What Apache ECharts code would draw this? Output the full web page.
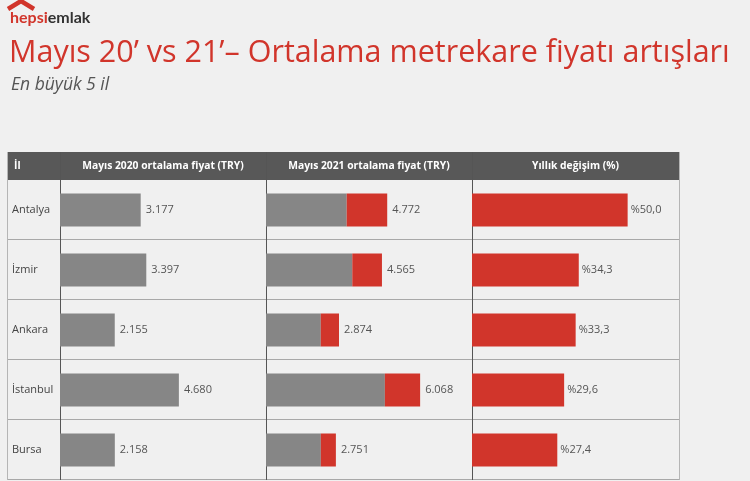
<!DOCTYPE html>
<html>
<head>
<meta charset="utf-8">
<script src="https://cdn.jsdelivr.net/npm/echarts@6/dist/echarts.min.js"></script>
<style>
  html, body { margin: 0; padding: 0; background: #f0f0f0; }
  #main { width: 750px; height: 481px; }
</style>
</head>
<body>
<div id="main"></div>
<script>
// veriler
var cities = ['Antalya', 'İzmir', 'Ankara', 'İstanbul', 'Bursa'];
var price2020 = [3177, 3397, 2155, 4680, 2158];
var price2021 = [4772, 4565, 2874, 6068, 2751];
var yearlyChange = [50.0, 34.3, 33.3, 29.6, 27.4];
var headers = ['İl', 'Mayıs 2020 ortalama fiyat (TRY)', 'Mayıs 2021 ortalama fiyat (TRY)', 'Yıllık değişim (%)'];

var RED = '#d1352b';
var GREY = '#868686';
var FONT = 'Open Sans';

// tablo ölçüleri
var colX = [7, 60, 266, 472, 679];
var headTop = 152, headH = 28, rowH = 60;
var tableTop = headTop + headH;

function fmtTry(v) {
    return String(v).replace(/\B(?=(\d{3})+(?!\d))/g, '.');
}
function fmtPct(v) {
    return '%' + v.toFixed(1).replace('.', ',');
}

var chart = echarts.init(document.getElementById('main'));

var graphics = [];
// başlık satırı
graphics.push({
    type: 'rect', z: 1,
    shape: { x: colX[0], y: headTop, width: colX[4] - colX[0], height: headH },
    style: { fill: '#585858' }
});
headers.forEach(function (h, i) {
    graphics.push({
        type: 'text', z: 2,
        x: i === 0 ? colX[0] + 7 : (colX[i] + colX[i + 1]) / 2,
        y: headTop + headH / 2,
        style: {
            text: h, fill: '#fff', font: 'bold 10.3px "' + FONT + '"',
            align: i === 0 ? 'left' : 'center', verticalAlign: 'middle'
        }
    });
});
// satır çizgileri
for (var r = 1; r <= cities.length; r++) {
    graphics.push({
        type: 'line', z: 1,
        shape: { x1: colX[0], y1: tableTop + r * rowH - 0.5, x2: colX[4], y2: tableTop + r * rowH - 0.5 },
        style: { stroke: '#a8a8a8', lineWidth: 1 }
    });
}
// sütun çizgileri
colX.forEach(function (x, i) {
    graphics.push({
        type: 'line', z: 1,
        shape: { x1: x + 0.5, y1: headTop, x2: x + 0.5, y2: tableTop + cities.length * rowH },
        style: { stroke: (i === 0 || i === 4) ? '#b5b5b5' : '#555', lineWidth: 1 }
    });
});
// logo çatısı
graphics.push({
    type: 'polyline', z: 3,
    shape: { points: [[8, 9], [21, 1], [34, 9]] },
    style: { stroke: RED, lineWidth: 4.5, fill: null }
});

var labelStyle = { color: '#555', fontSize: 11, fontFamily: FONT };

var option = {
    backgroundColor: '#f0f0f0',
    animation: false,
    graphic: graphics,
    title: [
        {
            left: 5, top: 5,
            text: '{a|hepsi}{b|emlak}',
            textStyle: {
                rich: {
                    a: { color: RED, fontSize: 16, fontFamily: 'Lato', fontWeight: 'bold' },
                    b: { color: '#333', fontSize: 16, fontFamily: 'Lato', fontWeight: 'bold' }
                }
            }
        },
        {
            left: 4, top: 33,
            text: 'Mayıs 20’ vs 21’– Ortalama metrekare fiyatı artışları',
            textStyle: { color: RED, fontSize: 30.5, fontWeight: 'normal', fontFamily: FONT }
        },
        {
            left: 6, top: 71,
            text: 'En büyük 5 il',
            textStyle: { color: '#555', fontSize: 17.5, fontStyle: 'italic', fontWeight: 'normal', fontFamily: FONT }
        }
    ],
    grid: [
        { left: colX[1], width: colX[2] - colX[1], top: tableTop, height: rowH * cities.length },
        { left: colX[2], width: colX[3] - colX[2], top: tableTop, height: rowH * cities.length },
        { left: colX[3], width: colX[4] - colX[3], top: tableTop, height: rowH * cities.length }
    ],
    xAxis: [
        { gridIndex: 0, type: 'value', min: 0, max: 8110, show: false },
        { gridIndex: 1, type: 'value', min: 0, max: 8110, show: false },
        { gridIndex: 2, type: 'value', min: 0, max: 66.5, show: false }
    ],
    yAxis: [0, 1, 2].map(function (g) {
        return {
            gridIndex: g, type: 'category', data: cities, inverse: true,
            axisLine: { show: false }, axisTick: { show: false }, splitLine: { show: false },
            axisLabel: g === 0 ? {
                show: true, align: 'left', margin: colX[1] - colX[0] - 5,
                color: '#444', fontSize: 11, fontFamily: FONT
            } : { show: false }
        };
    }),
    series: [
        {
            type: 'bar', xAxisIndex: 0, yAxisIndex: 0, barWidth: 33,
            data: price2020,
            itemStyle: { color: GREY },
            label: Object.assign({ show: true, position: 'right', distance: 5,
                formatter: function (p) { return fmtTry(p.value); } }, labelStyle)
        },
        {
            type: 'bar', xAxisIndex: 1, yAxisIndex: 1, barWidth: 33, stack: 'y21',
            data: price2020,
            itemStyle: { color: GREY }
        },
        {
            type: 'bar', xAxisIndex: 1, yAxisIndex: 1, barWidth: 33, stack: 'y21',
            data: price2021.map(function (v, i) { return v - price2020[i]; }),
            itemStyle: { color: RED },
            label: Object.assign({ show: true, position: 'right', distance: 5,
                formatter: function (p) { return fmtTry(price2021[p.dataIndex]); } }, labelStyle)
        },
        {
            type: 'bar', xAxisIndex: 2, yAxisIndex: 2, barWidth: 33,
            data: yearlyChange,
            itemStyle: { color: RED },
            label: Object.assign({ show: true, position: 'right', distance: 3,
                formatter: function (p) { return fmtPct(p.value); } }, labelStyle)
        }
    ]
};

chart.setOption(option);
</script>
</body>
</html>
